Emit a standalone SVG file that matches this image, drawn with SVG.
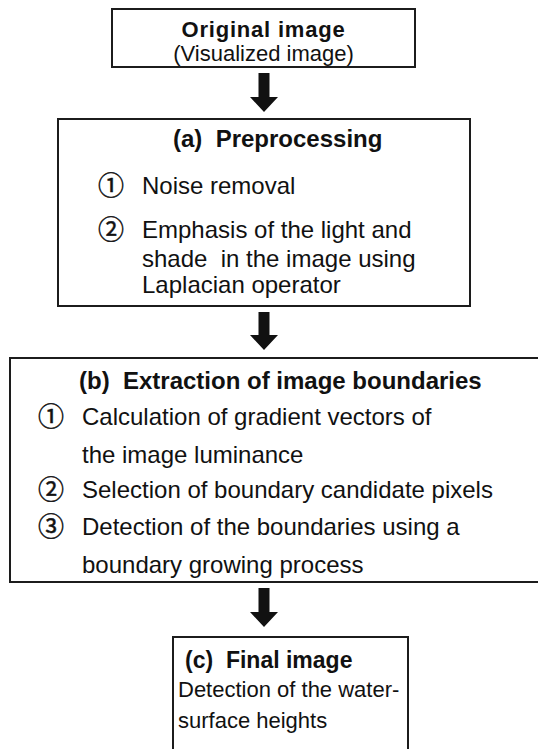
<svg xmlns="http://www.w3.org/2000/svg" width="538" height="749" viewBox="0 0 538 749">
<style>
.box{fill:#fff;stroke:#1c1c1c;stroke-width:2}
.t{font-family:"Liberation Sans",Arial,sans-serif;font-size:24px;fill:#111;white-space:pre}
.b{font-weight:bold}
.s22{font-size:22px}
.s23{font-size:23px}
.c{font-family:"Noto Sans CJK JP","DejaVu Sans",sans-serif;font-size:26px;fill:#111;stroke:#111;stroke-width:0.5}
.arr{fill:#111}
</style>
<rect width="538" height="749" fill="#fff"/>
<g id="connectors">
<polygon class="arr" points="258.5,73 269.5,73 269.5,97 278,97 264,112 250,97 258.5,97"/>
<polygon class="arr" points="258.5,312 269.5,312 269.5,335 278,335 264,350 250,335 258.5,335"/>
<polygon class="arr" points="258.5,588 269.5,588 269.5,612 278,612 264,627 250,612 258.5,612"/>
</g>
<g id="original">
<rect class="box" x="112" y="9" width="303" height="58"/>
<text class="t b s22" x="263.5" y="37" text-anchor="middle" letter-spacing="0.8">Original image</text>
<text class="t s22" x="263.5" y="61" text-anchor="middle">(Visualized image)</text>
</g>
<g id="preprocessing">
<rect class="box" x="58" y="119" width="412" height="187"/>
<text class="t b" x="173" y="147" xml:space="preserve">(a)  Preprocessing</text>
<text class="c" x="98" y="195">①</text>
<text class="t" x="142" y="194">Noise removal</text>
<text class="c" x="98" y="239">②</text>
<text class="t" x="142" y="238">Emphasis of the light and</text>
<text class="t" x="142" y="267" xml:space="preserve">shade  in the image using</text>
<text class="t" x="142" y="293">Laplacian operator</text>
</g>
<g id="boundaries">
<rect class="box" x="10" y="358" width="532" height="224"/>
<text class="t b" x="79" y="389" xml:space="preserve">(b)  Extraction of image boundaries</text>
<text class="c" x="38" y="426">①</text>
<text class="t" x="82" y="425">Calculation of gradient vectors of</text>
<text class="t" x="82" y="463">the image luminance</text>
<text class="c" x="38" y="499">②</text>
<text class="t" x="82" y="498">Selection of boundary candidate pixels</text>
<text class="c" x="38" y="536">③</text>
<text class="t" x="82" y="535">Detection of the boundaries using a</text>
<text class="t" x="82" y="573">boundary growing process</text>
</g>
<g id="final">
<rect class="box" x="173" y="637" width="235" height="130"/>
<text class="t b s23" x="185" y="668" xml:space="preserve">(c)  Final image</text>
<text class="t s22" x="178" y="697">Detection of the water-</text>
<text class="t s22" x="178" y="728">surface heights</text>
</g>
</svg>
